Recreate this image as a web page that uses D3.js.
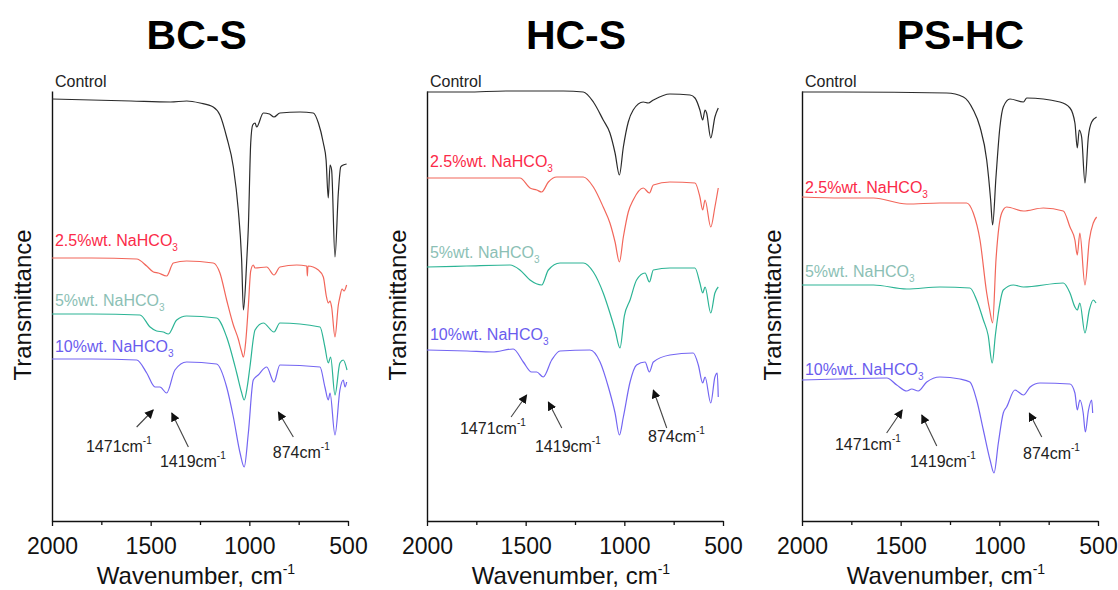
<!DOCTYPE html>
<html>
<head>
<meta charset="utf-8">
<script src="https://cdn.jsdelivr.net/npm/d3@7"></script>
<style>
  body { margin: 0; background: #fff; }
  svg { display: block; font-family: "Liberation Sans", Arial, sans-serif; }
</style>
</head>
<body>
<div id="chart"></div>
<script>
// panel titles and where they sit (wavenumber of title centre)
const panelNames = ["BC-S", "HC-S", "PS-HC"];
const titleAt = [1267, 1245, 1197];
const seriesNames = ["Control", "2.5%wt. NaHCO", "5%wt. NaHCO", "10%wt. NaHCO"];
const xTicks = [2000, 1500, 1000, 500];
const xMinorTicks = [1750, 1250, 750];

// spectra, [wavenumber cm-1, offset transmittance a.u.]
const bcsControl = [[2000,42.2],[1800,42.1],[1600,42.0],[1400,41.9],[1317,42.0],[1250,41.8],[1183,41.4],[1149,40.6],[1115,38.4],[1081,35.4],[1056,31.1],[1039,26.1],[1030,21.1],[1013,26.1],[1005,29.4],[993,37.8],[983,39.6],[971,39.8],[963,39.4],[929,40.8],[898,40.7],[875,40.4],[845,40.8],[743,40.9],[676,40.8],[650,39.8],[625,37.8],[611,36.1],[600,32.3],[591,35.6],[583,35.1],[566,26.4],[549,32.8],[537,35.4],[524,35.6],[507,35.7]];
const bcsLow = [[2000,26.3],[1800,26.3],[1571,26.2],[1520,25.5],[1486,24.9],[1461,24.8],[1419,24.5],[1385,25.8],[1318,26.0],[1183,25.8],[1149,24.8],[1115,22.1],[1081,19.6],[1056,18.2],[1040,17.0],[1030,16.4],[1018,18.0],[1005,21.5],[993,25.0],[980,25.6],[971,25.3],[912,25.4],[875,24.6],[845,25.4],[760,25.6],[709,25.5],[706,24.5],[703,25.5],[650,25.1],[625,24.4],[610,22.5],[600,21.8],[591,22.0],[583,21.4],[566,18.4],[549,21.6],[541,22.4],[530,23.2],[520,23.0],[507,23.6]];
const bcsMid = [[2000,20.7],[1800,20.7],[1554,20.6],[1503,19.4],[1470,19.0],[1436,18.9],[1410,18.7],[1368,20.1],[1318,20.5],[1166,20.3],[1115,18.4],[1064,14.8],[1040,12.9],[1026,12.1],[1010,13.5],[997,15.4],[971,19.1],[929,19.8],[875,18.9],[845,19.8],[642,19.4],[617,17.4],[600,15.8],[588,16.4],[566,12.6],[541,15.8],[524,16.1],[505,15.1]];
const bcsHigh = [[2000,16.2],[1800,16.2],[1571,16.1],[1520,14.8],[1478,13.4],[1453,13.4],[1419,12.8],[1377,15.1],[1318,15.9],[1166,15.7],[1115,13.4],[1081,10.4],[1047,6.8],[1026,5.4],[1005,8.8],[980,14.1],[955,14.6],[912,15.4],[875,13.9],[845,15.6],[642,15.4],[617,13.4],[600,12.1],[591,12.8],[566,8.6],[541,13.1],[524,14.1],[515,13.4],[507,13.9]];

const hcsControl = [[2000,42.9],[1800,42.9],[1600,43.0],[1309,43.0],[1208,42.9],[1157,41.9],[1107,40.1],[1073,38.8],[1047,36.8],[1025,34.6],[1005,37.4],[980,39.9],[955,41.1],[904,41.9],[879,41.8],[853,42.1],[769,42.7],[667,42.6],[642,42.3],[617,41.1],[603,40.1],[591,41.1],[583,40.8],[562,38.3],[541,40.4],[524,41.3]];
const hcsLow = [[2000,34.3],[1800,34.3],[1529,34.3],[1478,33.3],[1444,33.1],[1419,32.9],[1385,33.9],[1343,34.4],[1208,34.4],[1157,33.4],[1107,31.4],[1073,29.8],[1047,27.9],[1025,25.9],[1005,28.4],[980,30.9],[955,32.1],[904,33.3],[873,32.8],[853,33.6],[769,33.9],[642,33.8],[617,32.4],[603,31.1],[591,32.1],[562,29.4],[541,31.4],[524,33.3]];
const hcsMid = [[2000,25.4],[1800,25.5],[1579,25.6],[1529,25.1],[1478,24.1],[1419,23.6],[1385,25.1],[1326,25.8],[1208,25.8],[1157,24.9],[1107,22.8],[1073,20.8],[1047,19.1],[1022,17.3],[1000,20.5],[971,22.1],[938,24.1],[895,24.8],[873,23.9],[853,25.1],[769,25.3],[642,25.3],[617,23.8],[603,22.8],[591,23.4],[562,20.8],[541,22.8],[524,23.4]];
const hcsHigh = [[2000,17.1],[1797,17.0],[1670,16.9],[1563,17.2],[1512,15.9],[1470,14.9],[1444,14.9],[1411,14.4],[1368,16.1],[1326,17.0],[1174,17.1],[1123,15.9],[1081,13.4],[1047,10.8],[1025,8.6],[1005,10.4],[971,13.9],[938,15.6],[895,15.9],[873,14.9],[853,15.9],[769,16.6],[651,16.8],[625,15.6],[603,13.8],[591,14.4],[562,11.8],[541,14.4],[529,14.8],[524,12.4]];

const pshcControl = [[2000,42.9],[1800,42.9],[1267,42.8],[1182,42.4],[1132,41.1],[1098,39.4],[1064,36.1],[1044,32.1],[1034,29.6],[1017,34.4],[997,39.4],[980,41.4],[946,42.2],[878,41.9],[861,42.3],[693,41.9],[642,41.3],[617,39.8],[605,37.3],[595,39.1],[583,38.4],[566,33.8],[549,38.4],[532,39.9],[507,40.4]];
const pshcLow = [[2000,32.4],[1800,32.3],[1638,32.3],[1469,31.7],[1301,31.8],[1166,31.8],[1132,30.8],[1098,28.1],[1064,22.8],[1048,21.0],[1034,19.8],[1017,26.1],[988,30.8],[963,31.4],[878,31.0],[777,31.3],[676,31.0],[642,29.4],[617,28.1],[605,26.6],[592,28.8],[566,23.6],[544,28.1],[524,29.8],[507,30.4]];
const pshcMid = [[2000,23.6],[1638,23.6],[1469,23.2],[1301,23.4],[1149,23.3],[1115,22.1],[1081,20.1],[1057,18.6],[1036,15.8],[1020,18.6],[1005,20.8],[980,23.1],[929,23.6],[878,23.4],[676,23.8],[642,22.8],[617,21.4],[605,21.1],[592,21.8],[566,18.8],[544,21.1],[524,22.1],[510,21.8]];
const pshcHigh = [[2000,14.1],[1811,14.2],[1570,14.3],[1520,13.6],[1469,13.0],[1444,13.2],[1411,13.0],[1368,13.9],[1301,14.4],[1199,14.2],[1149,13.9],[1115,12.1],[1081,9.1],[1047,6.1],[1027,4.8],[1005,7.8],[980,10.8],[963,11.4],[921,13.1],[878,12.6],[844,13.4],[794,13.8],[642,13.7],[617,12.8],[605,11.1],[592,12.1],[575,10.8],[564,8.9],[549,11.0],[532,12.1],[527,10.8]];

const panelSeries = [
  [bcsControl, bcsLow, bcsMid, bcsHigh],
  [hcsControl, hcsLow, hcsMid, hcsHigh],
  [pshcControl, pshcLow, pshcMid, pshcHigh]
];
// label baselines per panel (same units as spectra), labels start at 1985 cm-1
const labelLevels = [
  [43.4, 27.5, 21.5, 16.9],
  [43.4, 35.4, 26.3, 18.1],
  [43.4, 32.8, 24.4, 14.6]
];
// peak annotations: [text, textX, textY, tailX, tailY, headX, headY]
const panelMarks = [
  [["1471", 1828, 6.9, 1571, 9.4, 1487, 11.1], ["1419", 1453, 5.4, 1309, 7.4, 1393, 10.8], ["874", 881, 6.3, 777, 8.4, 853, 10.9]],
  [["1471", 1833, 8.7, 1574, 10.4, 1495, 12.6], ["1419", 1453, 6.9, 1317, 9.3, 1385, 11.9], ["874", 880, 7.9, 785, 9.3, 853, 13.1]],
  [["1471", 1833, 7.1, 1571, 8.8, 1492, 11.1], ["1419", 1453, 5.4, 1317, 7.5, 1393, 10.6], ["874", 880, 6.2, 785, 8.4, 848, 10.8]]
];

const lineColors = ["#2b2b2b", "#f2665a", "#2cb495", "#7466f2"];
const labelColors = ["#222", "#fb2a48", "#8cbfb5", "#6a5cee"];

const width = 1118, height = 590;
const panelLeft = 52, panelStep = 375, plotW = 296;
const plotTop = 91, plotBottom = 521;

const svg = d3.select("#chart").append("svg")
    .attr("width", width)
    .attr("height", height);

svg.append("defs").append("marker")
    .attr("id", "arrow")
    .attr("viewBox", "0 0 10 10")
    .attr("refX", 9).attr("refY", 5)
    .attr("markerWidth", 9).attr("markerHeight", 9)
    .attr("markerUnits", "userSpaceOnUse")
    .attr("orient", "auto")
    .append("path")
    .attr("d", "M0,0 L10,5 L0,10 Z")
    .attr("fill", "#111");

panelNames.forEach((name, i) => {
    const g = svg.append("g").attr("transform", `translate(${panelLeft + i * panelStep},0)`);
    const x = d3.scaleLinear().domain([2000, 500]).range([0, plotW]);
    const y = d3.scaleLinear().domain([0, 43]).range([plotBottom, plotTop]);

    // y axis: bare line
    g.append("g")
        .call(d3.axisLeft(y).tickValues([]).tickSizeOuter(0))
        .select(".domain").attr("stroke", "#111").attr("stroke-width", 1.4);

    const xa = g.append("g")
        .attr("transform", `translate(0,${plotBottom})`)
        .call(d3.axisBottom(x).tickValues(xTicks).tickFormat(d3.format("d"))
            .tickSize(5).tickSizeOuter(0).tickPadding(12));
    xa.select(".domain").attr("stroke", "#111").attr("stroke-width", 1.4);
    xa.selectAll(".tick line").attr("stroke", "#111").attr("stroke-width", 1.3);
    xa.selectAll(".tick text")
        .style("font-size", "23px")
        .attr("fill", "#111");
    const xm = g.append("g")
        .attr("transform", `translate(0,${plotBottom})`)
        .call(d3.axisBottom(x).tickValues(xMinorTicks).tickSize(4).tickFormat(""));
    xm.select(".domain").remove();
    xm.selectAll(".tick line").attr("stroke", "#111").attr("stroke-width", 1.3);

    // axis titles
    const xt = g.append("text")
        .attr("x", plotW / 2 - 4)
        .attr("y", 584)
        .attr("text-anchor", "middle")
        .style("font-size", "24px")
        .attr("fill", "#111");
    xt.append("tspan").text("Wavenumber, cm");
    xt.append("tspan").attr("dy", -10).style("font-size", "14px").text("-1");

    g.append("text")
        .attr("transform", "rotate(-90)")
        .attr("x", -305)
        .attr("y", -21)
        .attr("text-anchor", "middle")
        .style("font-size", "24px")
        .attr("fill", "#111")
        .text("Transmittance");

    g.append("text")
        .attr("x", x(titleAt[i]))
        .attr("y", 49)
        .attr("text-anchor", "middle")
        .style("font-size", "41px")
        .style("font-weight", "bold")
        .attr("fill", "#000")
        .text(name);

    // spectra
    const line = d3.line()
        .x(d => x(d[0]))
        .y(d => y(d[1]))
        .curve(d3.curveMonotoneX);
    panelSeries[i].forEach((s, k) => {
        g.append("path")
            .datum(s)
            .attr("d", line)
            .attr("fill", "none")
            .attr("stroke", lineColors[k])
            .attr("stroke-width", 1.2)
            .attr("stroke-linejoin", "round");
    });

    // series labels
    seriesNames.forEach((label, k) => {
        const t = g.append("text")
            .attr("x", x(1985))
            .attr("y", y(labelLevels[i][k]))
            .style("font-size", "16px")
            .attr("fill", labelColors[k]);
        t.append("tspan").text(label);
        if (k > 0) {
            t.append("tspan").attr("dy", 5).style("font-size", "10px").text("3");
        }
    });

    // peak arrows and labels
    panelMarks[i].forEach(m => {
        g.append("line")
            .attr("x1", x(m[3])).attr("y1", y(m[4]))
            .attr("x2", x(m[5])).attr("y2", y(m[6]))
            .attr("stroke", "#444")
            .attr("stroke-width", 1.1)
            .attr("marker-end", "url(#arrow)");
        const t = g.append("text")
            .attr("x", x(m[1]))
            .attr("y", y(m[2]))
            .style("font-size", "16px")
            .attr("fill", "#222");
        t.append("tspan").text(m[0] + "cm");
        t.append("tspan").attr("dy", -8).style("font-size", "10px").text("-1");
    });
});
</script>
</body>
</html>
